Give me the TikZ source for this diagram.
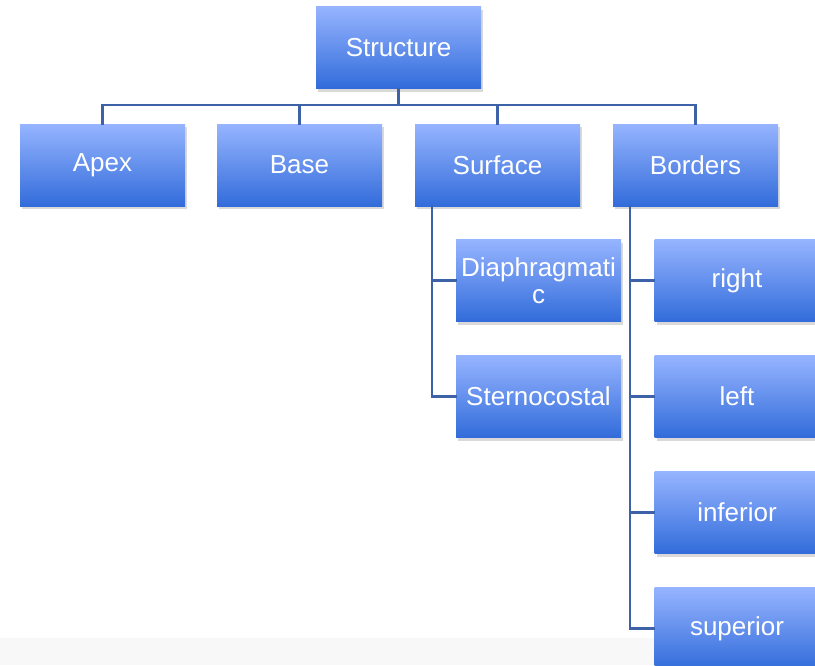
\documentclass[tikz,border=0pt]{standalone}
\usepackage{fontspec}
\setmainfont{Liberation Sans}
\usetikzlibrary{shadows}
\definecolor{boxtop}{RGB}{150,180,255}
\definecolor{boxbottom}{RGB}{50,108,218}
\definecolor{linkblue}{RGB}{62,98,168}
\definecolor{stripgray}{RGB}{248,248,248}
\tikzset{
  part/.style={rectangle, minimum width=165pt, minimum height=82pt, inner sep=0pt,
    top color=boxtop, bottom color=boxbottom, text=white, align=center,
    drop shadow={opacity=0.3, shadow xshift=2pt, shadow yshift=-3pt}},
  link/.style={draw=linkblue, line width=2.2pt}
}
\begin{document}
\begin{tikzpicture}[x=1pt, y=-1pt, font=\fontsize{26}{27}\selectfont, line join=miter, line cap=rect]
    \useasboundingbox (0,0) rectangle (815,665);
    \clip (0,0) rectangle (815,665);
    \fill[stripgray] (0,638) rectangle (815,665);
    % top level
    \node[part] (structure) at (398.5,47.5) {Structure};
    \node[part] (apex) at (102.5,165) {Apex};
    \node[part] (base) at (299.5,165) {Base};
    \node[part] (surface) at (497.5,165) {Surface};
    \node[part] (borders) at (695.5,165) {Borders};
    % surfaces
    \node[part] (diaph) at (538.5,280.5) {Diaphragmati\\c};
    \node[part] (stern) at (538.5,396.5) {Sternocostal};
    % borders
    \node[part] (right) at (737,280.5) {right};
    \node[part] (left) at (737,396.5) {left};
    \node[part] (inferior) at (737,512.5) {inferior};
    \node[part] (superior) at (737,628.5) {superior};
    % connectors
    \foreach \n in {apex,base,surface,borders}
        \draw[link] (structure.south) -- ++(0,16) -| (\n.north);
    \foreach \n in {diaph,stern}
        \draw[link] ([xshift=-65.5pt]surface.south) |- (\n.west);
    \foreach \n in {right,left,inferior,superior}
        \draw[link] ([xshift=-65.5pt]borders.south) |- (\n.west);
\end{tikzpicture}
\end{document}
